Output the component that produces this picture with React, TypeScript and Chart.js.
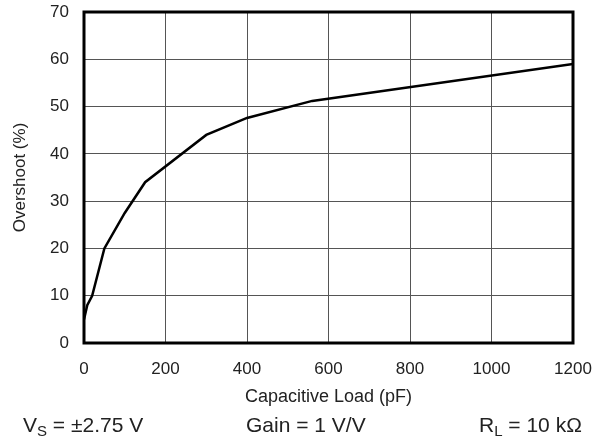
import React, { useEffect, useRef } from "react";
import { Chart, registerables } from "chart.js";

Chart.register(...registerables);

const loadPF = [0, 8, 20, 50, 100, 150, 300, 400, 560, 1200];
const overshootPct = [5, 8, 10, 20, 27.5, 34, 44, 47.6, 51.2, 59];
const xTitle = "Capacitive Load (pF)";
const yTitle = "Overshoot (%)";
const notes = [
  { main: "V", sub: "S", rest: " = ±2.75 V", x: 23 },
  { main: "Gain = 1 V/V", sub: "", rest: "", x: 246 },
  { main: "R", sub: "L", rest: " = 10 kΩ", x: 479 },
];

const FONT = "'Liberation Sans', Arial, sans-serif";
const TEXT = "#222";

const framePlugin = {
  id: "frame",
  afterDraw(chart: any) {
    const { ctx, chartArea } = chart;
    ctx.save();
    ctx.strokeStyle = "#000";
    ctx.lineWidth = 3;
    ctx.strokeRect(chartArea.left, chartArea.top, chartArea.right - chartArea.left, chartArea.bottom - chartArea.top);
    ctx.fillStyle = TEXT;
    ctx.textBaseline = "alphabetic";
    ctx.textAlign = "left";
    const baseY = 432;
    for (const n of notes) {
      let x = n.x;
      ctx.font = `21px ${FONT}`;
      ctx.fillText(n.main, x, baseY);
      x += ctx.measureText(n.main).width;
      if (n.sub) {
        ctx.font = `15px ${FONT}`;
        ctx.fillText(n.sub, x, baseY + 4);
        x += ctx.measureText(n.sub).width;
      }
      if (n.rest) {
        ctx.font = `21px ${FONT}`;
        ctx.fillText(n.rest, x, baseY);
      }
    }
    ctx.restore();
  },
};

export default function App() {
  const ref = useRef<HTMLCanvasElement>(null);
  useEffect(() => {
    if (!ref.current) return;
    const chart = new Chart(ref.current, {
      type: "line",
      data: {
        datasets: [
          {
            data: loadPF.map((x, i) => ({ x, y: overshootPct[i] })),
            borderColor: "#000",
            borderWidth: 2.5,
            pointRadius: 0,
            tension: 0,
            fill: false,
          },
        ],
      },
      options: {
        animation: false,
        responsive: false,
        devicePixelRatio: 1,
        layout: { padding: { top: 12, right: 32, left: 0, bottom: 0 } },
        plugins: { legend: { display: false }, tooltip: { enabled: false } },
        scales: {
          x: {
            type: "linear",
            min: 0,
            max: 1200,
            afterFit: (s: any) => {
              s.height = 98;
              s.paddingLeft = 0;
              s.paddingRight = 0;
            },
            ticks: {
              stepSize: 200,
              color: TEXT,
              font: { size: 17, family: FONT },
              padding: 16,
              maxRotation: 0,
              callback: (v: any) => String(v),
            },
            grid: { color: "#555", lineWidth: 1, drawTicks: false },
            border: { display: false },
            title: {
              display: true,
              text: xTitle,
              color: TEXT,
              font: { size: 18, family: FONT },
              padding: { top: 0, bottom: 33 },
            },
          },
          y: {
            min: 0,
            max: 70,
            afterFit: (s: any) => {
              s.width = 84;
              s.paddingTop = 0;
              s.paddingBottom = 0;
            },
            ticks: { stepSize: 10, color: TEXT, font: { size: 17, family: FONT }, padding: 15 },
            grid: { color: "#555", lineWidth: 1, drawTicks: false },
            border: { display: false },
            title: {
              display: true,
              text: yTitle,
              color: TEXT,
              font: { size: 17, family: FONT },
              padding: { top: 10, bottom: 0 },
            },
          },
        },
      },
      plugins: [framePlugin],
    });
    return () => chart.destroy();
  }, []);
  return (
    <div style={{ position: "fixed", left: 0, top: 0, width: 605, height: 441, background: "#fff" }}>
      <canvas ref={ref} width={605} height={441} />
    </div>
  );
}
